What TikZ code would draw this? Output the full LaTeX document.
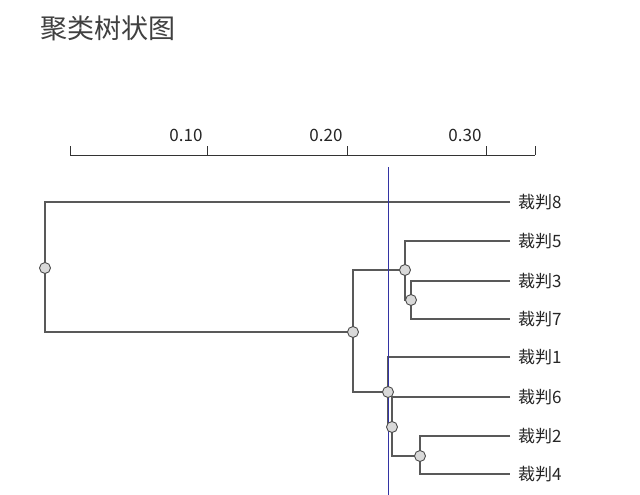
\documentclass[tikz,border=0pt]{standalone}
\usepackage{fontspec}
\setmainfont{Noto Sans CJK SC}
\begin{document}
\begin{tikzpicture}[x=1pt,y=-1pt,
  br/.style={draw=black!65,line width=1.4pt},
  jn/.style={circle,draw=black!70,fill=black!15,line width=0.9pt,inner sep=0pt,minimum size=11pt},
  lbl/.style={anchor=west,font=\fontsize{17}{17}\selectfont,text=black!85,inner sep=0pt},
  tick/.style={font=\fontsize{17}{17}\selectfont,text=black!85}]
\useasboundingbox[fill=white] (0,0) rectangle (640,495);
\node[anchor=west,font=\fontsize{27}{27}\selectfont,text=black!75,inner sep=0pt] (title) at (40,28) {聚类树状图};
% axis
\draw[black!80,line width=1pt] (70,155) -- (535,155);
\foreach \x in {70,207,347,486,535} \draw[black!80,line width=1pt] (\x,155) -- (\x,146);
\node[tick] (t1) at (186,135) {0.10};
\node[tick] (t2) at (326,135) {0.20};
\node[tick] (t3) at (465,135) {0.30};
% leaves
\foreach \n/\y in {8/202,5/241,3/281,7/319,1/357,6/397,2/436,4/474}
  {\coordinate (e\n) at (510,\y); \node[lbl] (l\n) at (518,\y) {裁判\n};}
% joins
\coordinate (n37) at (411,300);
\coordinate (n537) at (405,270);
\coordinate (n24) at (420,456);
\coordinate (n624) at (392,427);
\coordinate (n1624) at (388,392);
\coordinate (nA) at (353,332);
\coordinate (root) at (45,268);
\draw[br] (e3) -| (n37) |- (e7);
\draw[br] (e5) -| (n537) |- (n37);
\draw[br] (e2) -| (n24) |- (e4);
\draw[br] (e6) -| (n624) |- (n24);
\draw[br] (e1) -| (n1624) |- (n624);
\draw[br] (n537) -| (nA) |- (n1624);
\draw[br] (e8) -| (root) |- (nA);
\draw[blue!55!black!80,line width=1pt] (388,167) -- (388,495);
\foreach \c in {n37,n537,n24,n624,n1624,nA,root} \node[jn] at (\c) {};
\end{tikzpicture}
\end{document}
